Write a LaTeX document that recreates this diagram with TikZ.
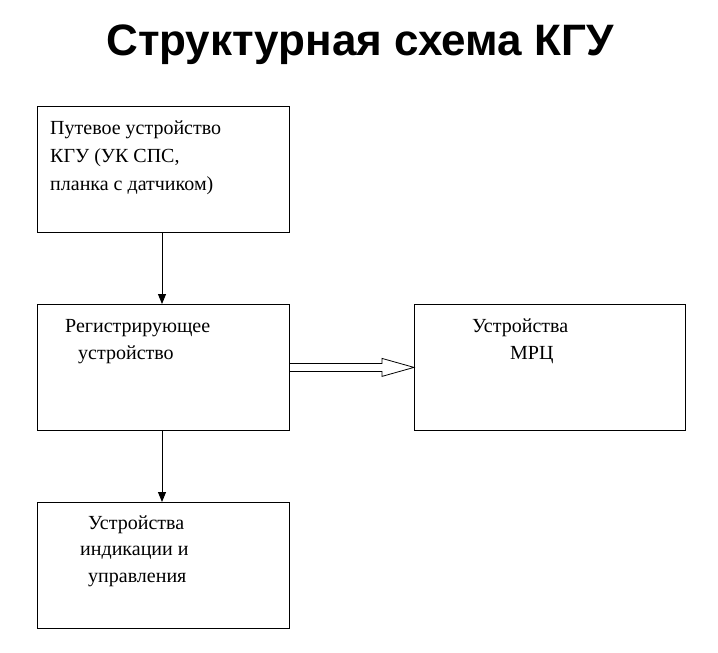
\documentclass[tikz,border=0pt]{standalone}
\usepackage{fontspec}
\setmainfont{Liberation Serif}
\newfontfamily\titlefont{Liberation Sans}
\usetikzlibrary{calc,arrows.meta}
\begin{document}
\begin{tikzpicture}[x=1pt,y=-1pt,
  box/.style={draw,line width=0.8pt,minimum width=252pt,minimum height=126pt,anchor=north west},
  txt/.style={anchor=west,inner sep=0pt,font=\fontsize{20}{24}\selectfont},
  arr/.style={-{Triangle[length=10pt,width=8pt]},line width=1pt}]
\useasboundingbox (0,0) rectangle (718,653);
\node[font=\titlefont\bfseries\fontsize{44}{50}\selectfont] (title) at (360,45) {Структурная схема КГУ};
\node[box] (b1) at (37,106) {};
\node[box] (b2) at (37,304) {};
\node[box,minimum width=271pt] (b3) at (414,304) {};
\node[box] (b4) at (37,502) {};
\node[txt] (t1) at (50,130) {Путевое устройство};
\node[txt] (t2) at (50,158) {КГУ (УК СПС,};
\node[txt] (t3) at (50,186) {планка с датчиком)};
\node[txt] (t4) at (65,328) {Регистрирующее};
\node[txt] (t5) at (78,355) {устройство};
\node[txt] (t6) at (472,328) {Устройства};
\node[txt] (t7) at (510,355) {МРЦ};
\node[txt] (t8) at (88,525) {Устройства};
\node[txt] (t9) at (80,553) {индикации и};
\node[txt] (t10) at (88,580) {управления};
\draw[arr] (b1.south -| 162,0) -- (b2.north -| 162,0);
\draw[arr] (b2.south -| 162,0) -- (b4.north -| 162,0);
\draw[line width=0.8pt] ($(b2.east)+(0,-4)$) -- ($(b3.west)+(-32,-4)$) -- ($(b3.west)+(-32,-9)$)
  -- (b3.west) -- ($(b3.west)+(-32,9)$) -- ($(b3.west)+(-32,4)$) -- ($(b2.east)+(0,4)$);
\end{tikzpicture}
\end{document}
